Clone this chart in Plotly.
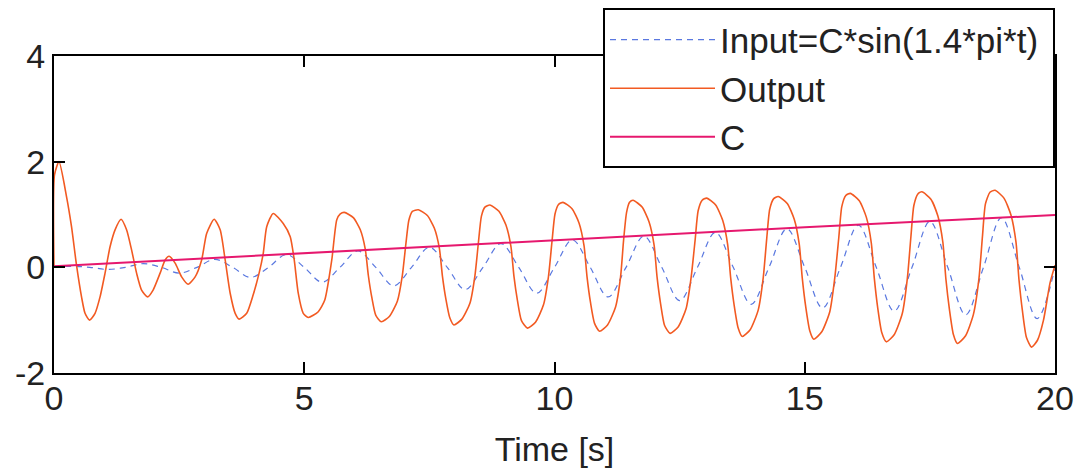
import plotly.graph_objects as go

# Output response (time in s, value)
out_t = [0.00, 0.01, 0.10, 0.25, 0.35, 0.45, 0.55, 0.62, 0.71, 0.82, 0.92, 1.02, 1.12, 1.22, 1.34,
         1.45, 1.55, 1.65, 1.75, 1.87, 1.98, 2.12, 2.22, 2.30, 2.42, 2.55, 2.68, 2.82, 2.95, 3.05,
         3.20, 3.32, 3.42, 3.52, 3.62, 3.70, 3.85, 3.98, 4.10, 4.18, 4.25, 4.38, 4.58, 4.72, 4.80,
         4.88, 4.98, 5.08, 5.28, 5.41, 5.55, 5.65, 5.72,
         5.80, 5.98, 6.12, 6.22, 6.28, 6.35, 6.43, 6.54, 6.70, 6.86, 6.96, 7.03, 7.09, 7.16,
         7.28, 7.46, 7.60, 7.70, 7.76, 7.83, 7.91, 7.99, 8.15, 8.31, 8.41, 8.48, 8.54, 8.61,
         8.71, 8.89, 9.03, 9.13, 9.19, 9.26, 9.34, 9.46, 9.62, 9.78, 9.88, 9.95, 10.01, 10.08,
         10.17, 10.35, 10.49, 10.59, 10.65, 10.72, 10.80, 10.90, 11.06, 11.22, 11.32, 11.38, 11.44, 11.50,
         11.57, 11.75, 11.89, 11.99, 12.05, 12.12, 12.20, 12.31, 12.47, 12.63, 12.73, 12.81, 12.87, 12.95,
         13.04, 13.22, 13.36, 13.46, 13.52, 13.59, 13.67, 13.75, 13.91, 14.07, 14.17, 14.24, 14.30, 14.38,
         14.47, 14.65, 14.79, 14.89, 14.95, 15.02, 15.10, 15.18, 15.34, 15.50, 15.60, 15.68, 15.74, 15.82,
         15.91, 16.09, 16.23, 16.33, 16.39, 16.46, 16.54, 16.63, 16.79, 16.95, 17.05, 17.12, 17.18, 17.26,
         17.34, 17.52, 17.66, 17.76, 17.82, 17.89, 17.97, 18.05, 18.21, 18.37, 18.48, 18.55, 18.61, 18.70,
         18.80, 18.98, 19.12, 19.22, 19.28, 19.35, 19.43, 19.53, 19.65, 19.77, 19.90, 20.00]
out_v = [0.00, 1.75, 2.00, 1.34, 0.77, 0.04, -0.56, -0.87, -1.00, -0.87, -0.56, -0.11, 0.39, 0.71, 0.91,
         0.71, 0.33, -0.11, -0.43, -0.56, -0.43, -0.11, 0.14, 0.21, 0.08, -0.18, -0.32, -0.18, 0.14, 0.64,
         0.91, 0.71, 0.14, -0.49, -0.87, -0.98, -0.87, -0.52, -0.10, 0.26, 0.77, 1.02, 0.83, 0.58, 0.14,
         -0.49, -0.87, -0.95, -0.84, -0.62, 0.14, 0.90, 1.01,
         1.04, 0.94, 0.71, 0.34, -0.15, -0.57, -0.91, -1.03, -0.93, -0.64, -0.15, 0.44, 0.89, 1.06,
         1.09, 0.98, 0.74, 0.36, -0.16, -0.60, -0.96, -1.09, -0.98, -0.68, -0.16, 0.47, 0.97, 1.14,
         1.18, 1.06, 0.80, 0.39, -0.17, -0.63, -1.01, -1.15, -1.04, -0.71, -0.17, 0.49, 1.01, 1.19,
         1.23, 1.11, 0.84, 0.41, -0.18, -0.67, -1.06, -1.21, -1.09, -0.75, -0.18, 0.51, 1.04, 1.23,
         1.27, 1.14, 0.86, 0.42, -0.19, -0.69, -1.10, -1.25, -1.13, -0.78, -0.19, 0.52, 1.07, 1.27,
         1.31, 1.18, 0.89, 0.43, -0.20, -0.72, -1.15, -1.31, -1.18, -0.81, -0.20, 0.54, 1.10, 1.30,
         1.34, 1.21, 0.91, 0.44, -0.20, -0.75, -1.20, -1.36, -1.22, -0.84, -0.20, 0.56, 1.15, 1.36,
         1.40, 1.26, 0.95, 0.46, -0.21, -0.78, -1.24, -1.41, -1.27, -0.87, -0.21, 0.57, 1.17, 1.39,
         1.43, 1.29, 0.97, 0.47, -0.22, -0.79, -1.27, -1.44, -1.30, -0.89, -0.22, 0.58, 1.20, 1.42,
         1.46, 1.31, 0.99, 0.48, -0.23, -0.83, -1.33, -1.51, -1.38, -1.00, -0.30, 0.04]

# Input signal: zero crossings and extremes
in_t = [0.000, 0.357, 0.714, 1.071, 1.429, 1.786, 2.143, 2.500, 2.857, 3.214, 3.571, 3.929,
        4.286, 4.643, 5.000, 5.357, 5.714, 6.071, 6.429, 6.786, 7.143, 7.500, 7.857, 8.214,
        8.571, 8.929, 9.286, 9.643, 10.000, 10.357, 10.714, 11.071, 11.429, 11.786, 12.143, 12.500,
        12.857, 13.214, 13.571, 13.929, 14.286, 14.643, 15.000, 15.357, 15.714, 16.071, 16.429, 16.786,
        17.143, 17.500, 17.857, 18.214, 18.571, 18.929, 19.286, 19.643, 20.000]
in_v = [0.00, 0.02, 0.00, -0.04, 0.00, 0.07, 0.00, -0.11, 0.00, 0.15, 0.00, -0.19,
        0.00, 0.24, 0.00, -0.28, 0.00, 0.31, 0.00, -0.35, 0.00, 0.38, 0.00, -0.42,
        0.00, 0.45, 0.00, -0.49, 0.00, 0.52, 0.00, -0.56, 0.00, 0.59, 0.00, -0.63,
        0.00, 0.66, 0.00, -0.70, 0.00, 0.73, 0.00, -0.77, 0.00, 0.80, 0.00, -0.83,
        0.00, 0.87, 0.00, -0.90, 0.00, 0.94, 0.00, -0.97, 0.00]

# slowly ramping amplitude C
c_t = [0.0, 5.0, 10.0, 15.0, 20.0]
c_v = [0.02, 0.27, 0.52, 0.76, 0.99]

x_ticks = [0, 5, 10, 15, 20]
y_ticks = [-2, 0, 2, 4]
y_tick_text = ["-2", "0", "2", "4"]

FONT = "Liberation Sans, Arial, sans-serif"

fig = go.Figure()
fig.add_trace(go.Scatter(
    x=in_t, y=in_v, mode="lines", name="Input=C*sin(1.4*pi*t)\u00a0",
    line=dict(color="#5a78e0", width=1.2, dash="6px,5px", shape="spline", smoothing=1.0),
))
fig.add_trace(go.Scatter(
    x=out_t, y=out_v, mode="lines", name="Output",
    line=dict(color="#f25a22", width=1.6, shape="spline", smoothing=0.6),
))
fig.add_trace(go.Scatter(
    x=c_t, y=c_v, mode="lines", name="C",
    line=dict(color="#e6186e", width=2),
))

axis_common = dict(
    showline=True, linecolor="black", linewidth=2, mirror="ticks",
    ticks="inside", ticklen=11, tickwidth=2, tickcolor="black",
    showgrid=False, zeroline=False, automargin=False,
    tickfont=dict(family=FONT, size=34, color="#222222"),
)

fig.update_xaxes(range=[0, 20], tickvals=x_ticks, ticklabelstandoff=-6,
                 title=dict(text="Time [s]", font=dict(family=FONT, size=34, color="#222222"), standoff=22),
                 **axis_common)
fig.update_yaxes(range=[-2, 4], tickvals=y_ticks, ticktext=y_tick_text, **axis_common)

fig.update_layout(
    width=1078, height=468,
    margin=dict(l=54, r=23, t=56, b=95, autoexpand=False),
    paper_bgcolor="white", plot_bgcolor="white",
    font=dict(family=FONT, size=34, color="#222222"),
    legend=dict(
        x=1, y=1.15, xanchor="right", yanchor="top",
        bgcolor="white", bordercolor="black", borderwidth=2,
        font=dict(family=FONT, size=35, color="#222222"),
        itemwidth=105, tracegroupgap=0,
    ),
)

# page body has a default 8px margin; drop it so the figure sits at the window corner
fig.write_html("out.html", config={"displayModeBar": False},
               post_script="document.body.style.margin='0';document.body.style.overflow='hidden';")
